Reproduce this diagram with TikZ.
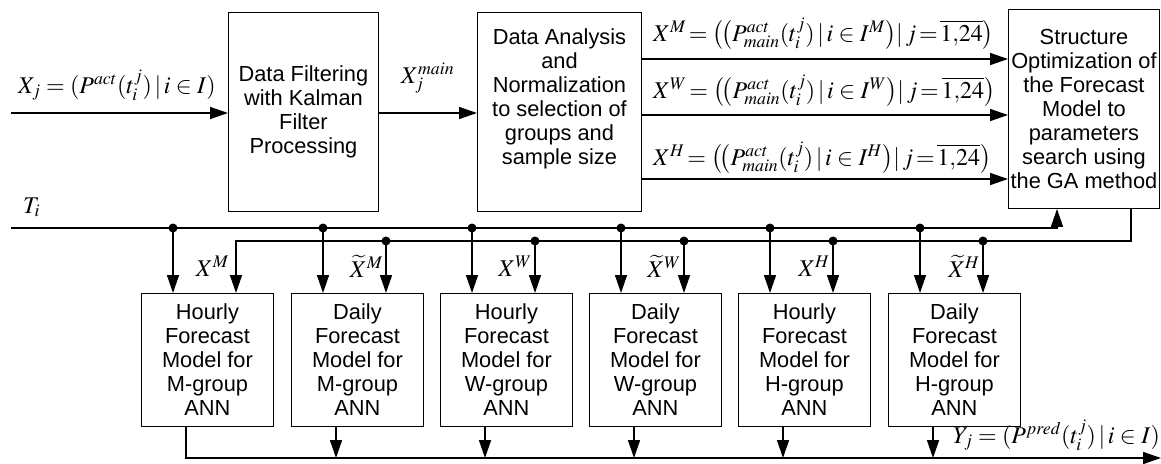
\documentclass[tikz,border=0pt]{standalone}
\usepackage{mathptmx}
\usepackage[no-math]{fontspec}
\setmainfont{Liberation Sans}
\usetikzlibrary{arrows.meta}
\begin{document}
\begin{tikzpicture}[x=1pt,y=-1pt,
  box/.style={draw, line width=0.9pt, inner sep=0pt, align=center,
    font=\fontsize{21.8}{24}\selectfont, anchor=north west},
  conn/.style={line width=1.5pt},
  arr/.style={conn, -{Triangle[length=18pt,width=12pt]}},
  lab/.style={font=\fontsize{24}{28}\selectfont, inner sep=0pt},
  jdot/.style={circle, fill, inner sep=0pt, minimum size=9pt}]
\useasboundingbox (0,0) rectangle (1161,463);
% top boxes
\node[box, minimum width=150pt, minimum height=199pt] (F) at (228,12)
  {Data Filtering\\with Kalman\\Filter\\Processing};
\node[box, minimum width=164pt, minimum height=199pt] (A) at (477,12)
  {Data Analysis\\and\\Normalization\\to selection of\\groups and\\sample size\\[6pt]};
\node[box, minimum width=151pt, minimum height=199pt] (S) at (1008,9)
  {Structure\\Optimization of\\the Forecast\\Model to\\parameters\\search using\\the GA method};
% bottom boxes
\foreach \i/\x/\t/\g in {1/141/Hourly/M,2/291/Daily/M,3/440/Hourly/W,4/589/Daily/W,5/738/Hourly/H,6/888/Daily/H}{
  \node[box, minimum width=132pt, minimum height=133pt] (B\i) at (\x,293)
    {\t\\Forecast\\Model for\\\g-group\\ANN};
}
% input
\coordinate (in) at (11,113);
\draw[arr] (in) -- (in -| F.west);
\node[lab, anchor=base west] (Xj) at (18,93) {$X_j=(P^{act}(t_i^j)\,|\,i\in I)$};
\draw[arr] (in -| F.east) -- (in -| A.west);
\node[lab, anchor=base west] (Xm) at (401,83) {$X_j^{main}$};
% three outputs of A
\coordinate (y1) at (700,59);
\coordinate (y2) at (700,115);
\coordinate (y3) at (700,179);
\draw[arr] (y1 -| A.east) -- (y1 -| S.west);
\draw[arr] (y2 -| A.east) -- (y2 -| S.west);
\draw[arr] (y3 -| A.east) -- (y3 -| S.west);
\node[lab, anchor=base west] (LM) at (653,41)
  {$X^M\!=\bigl(\!\bigl(P^{act}_{main}(t_i^j)\,|\,i\in I^M\bigr)|\,j\!=\!\overline{1{,}24}\bigr)$};
\node[lab, anchor=base west] (LW) at (653,98)
  {$X^W\!=\bigl(\!\bigl(P^{act}_{main}(t_i^j)\,|\,i\in I^W\bigr)|\,j\!=\!\overline{1{,}24}\bigr)$};
\node[lab, anchor=base west] (LH) at (653,165)
  {$X^H\!=\bigl(\!\bigl(P^{act}_{main}(t_i^j)\,|\,i\in I^H\bigr)|\,j\!=\!\overline{1{,}24}\bigr)$};
% T line
\coordinate (ti) at (11,228);
\coordinate (tS) at (1057,228);
\node[lab, anchor=base west] (Ti) at (23,213) {$T_i$};
\draw[arr] (ti) -- (tS) -- (tS |- S.south);
% feedback line
\coordinate (xs) at (1131,241);
\coordinate (x1) at (236,241);
\draw[arr] (xs |- S.south) -- (xs) -- (x1) -- (x1 |- B1.north);
\node[lab, anchor=east] (L1) at ([xshift=-7pt,yshift=27pt]x1 |- B1.north) {$X^M$};
% drops
\foreach \i/\x in {1/141,2/291,3/440,4/589,5/738,6/888}{
  \coordinate (T\i) at (\x+32,228);
  \draw[arr] (T\i) -- (T\i |- B\i.north);
  \node[jdot] at (T\i) {};
}
\foreach \i/\x/\l in {2/291/{\widetilde{X}^M},3/440/{X^W},4/589/{\widetilde{X}^W},5/738/{X^H},6/888/{\widetilde{X}^H}}{
  \coordinate (X\i) at (\x+95,241);
  \draw[arr] (X\i) -- (X\i |- B\i.north);
  \node[jdot] at (X\i) {};
  \node[lab, anchor=east] (L\i) at ([xshift=-3pt,yshift=27pt]X\i |- B\i.north) {$\l$};
}
% outputs
\coordinate (o1) at (186,458);
\coordinate (oe) at (1161,458);
\draw[arr] (o1 |- B1.south) -- (o1) -- (oe);
\foreach \i/\x in {2/291,3/440,4/589,5/738,6/888}{
  \coordinate (O\i) at (\x+45,458);
  \draw[arr] (O\i |- B\i.south) -- (O\i);
}
\node[lab, anchor=base east] (Yj) at (1160,443) {$Y_j=(P^{pred}(t_i^j)\,|\,i\in I)$};
\end{tikzpicture}
\end{document}
